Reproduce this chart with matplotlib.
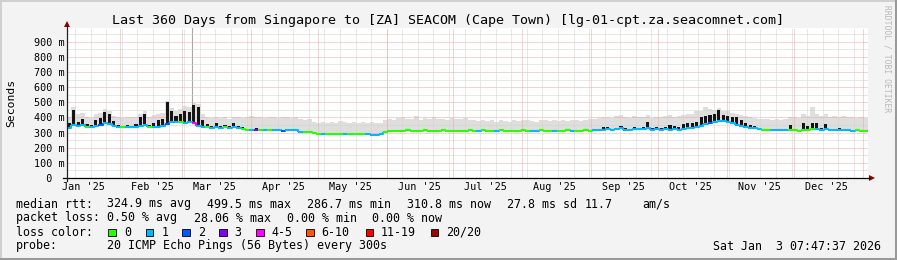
import numpy as np
import matplotlib
matplotlib.use("Agg")
import matplotlib.pyplot as plt
import matplotlib.dates as mdates
import matplotlib.transforms as mtransforms
from matplotlib.collections import LineCollection
from matplotlib.patches import Rectangle, Polygon
from matplotlib.lines import Line2D
from datetime import datetime, timedelta

W, H = 897, 260
MONO = "DejaVu Sans Mono"

# time range of the graph (Last 360 Days, ending at the timestamp in the footer)
start = datetime(2025, 1, 8, 7, 47, 37)
end = datetime(2026, 1, 3, 7, 47, 37)
step_days = 2

# median rtt per 2-day step (ms)
median_ms = [
    330, 350, 342, 350, 338, 336, 345, 350, 362, 355, 345, 338, 334, 338, 335, 336, 345, 350, 337, 340,
    340, 345, 358, 370, 372, 368, 365, 370, 360, 345, 340, 335, 332, 336, 332, 334, 331, 335, 330, 326,
    320, 316, 318, 315, 317, 318, 318, 320, 310, 318, 318, 316, 306, 303, 303, 294, 293, 292, 293, 291,
    292, 293, 292, 291, 292, 293, 291, 288, 287, 286, 288, 306, 312, 313, 313, 312, 314, 313, 312, 313,
    314, 313, 312, 313, 314, 313, 312, 313, 312, 313, 314, 313, 312, 314, 313, 312, 313, 314, 312, 313,
    313, 312, 314, 313, 312, 313, 314, 313, 312, 313, 313, 312, 314, 313, 312, 313, 314, 313, 314, 316,
    320, 322, 318, 322, 328, 320, 318, 325, 322, 326, 330, 320, 322, 320, 324, 318, 322, 320, 325, 328,
    330, 335, 345, 355, 365, 372, 378, 375, 368, 360, 352, 345, 335, 330, 328, 322, 318, 316, 318, 315,
    316, 315, 318, 314, 313, 316, 320, 322, 325, 318, 322, 316, 315, 316, 314, 315, 313, 314, 313, 313,
]

# top of the dark (black) part around the median (ms)
dark_ms = [
    360, 448, 372, 392, 356, 350, 385, 398, 438, 420, 378, 352, 345, 352, 346, 355, 402, 422, 352, 362,
    382, 392, 502, 442, 412, 420, 442, 438, 480, 472, 382, 355, 345, 362, 345, 352, 342, 360, 345, 338,
    325, 320, 332, 318, 325, 322, 320, 325, 318, 322, 320, 318, 310, 306, 306, 300, 293, 292, 293, 291,
    292, 293, 292, 291, 292, 293, 291, 288, 287, 286, 288, 306, 312, 313, 313, 312, 314, 313, 312, 313,
    314, 313, 312, 313, 314, 313, 312, 313, 312, 313, 314, 313, 312, 314, 313, 312, 313, 314, 312, 313,
    313, 312, 314, 313, 312, 313, 314, 313, 312, 313, 313, 312, 314, 313, 312, 313, 314, 313, 316, 322,
    335, 338, 325, 330, 345, 328, 325, 335, 330, 340, 373, 330, 335, 330, 338, 350, 345, 340, 355, 362,
    360, 370, 400, 410, 415, 420, 452, 418, 410, 400, 405, 380, 360, 350, 345, 330, 322, 320, 325, 318,
    320, 318, 350, 318, 316, 362, 345, 366, 360, 330, 358, 325, 322, 330, 318, 325, 316, 318, 316, 315,
]

# top of the smoke (spread of the pings, ms)
smoke_ms = [
    400, 470, 420, 430, 405, 395, 425, 430, 455, 445, 410, 400, 395, 405, 400, 400, 425, 440, 405, 415,
    420, 430, 510, 460, 440, 455, 475, 470, 495, 490, 425, 405, 395, 400, 395, 405, 390, 405, 400, 395,
    405, 408, 400, 405, 395, 400, 405, 395, 400, 405, 395, 400, 392, 385, 390, 372, 365, 370, 360, 372,
    365, 375, 368, 362, 370, 365, 372, 362, 368, 360, 365, 380, 390, 385, 395, 400, 388, 392, 410, 385,
    395, 390, 405, 388, 392, 385, 395, 390, 388, 398, 385, 380, 378, 385, 375, 380, 372, 385, 378, 370,
    382, 375, 380, 385, 378, 372, 380, 385, 375, 382, 378, 385, 375, 380, 385, 378, 382, 388, 392, 395,
    400, 405, 395, 410, 415, 400, 395, 410, 405, 400, 415, 395, 405, 400, 410, 415, 405, 410, 415, 420,
    425, 440, 445, 470, 455, 450, 465, 445, 440, 430, 425, 415, 410, 400, 395, 392, 388, 390, 385, 390,
    385, 392, 400, 405, 395, 420, 410, 470, 425, 410, 420, 405, 410, 400, 408, 400, 405, 398, 402, 395,
]

# loss color index per step (0 = no loss ... 7 = 20/20)
loss_code = (
    "1111011211" "1101111101" "1121101141" "1011101110" "0130101121"
    "1110000100" "0010000111" "1000000000" "0000000000" "0010001000"
    "0000110001" "0001000011" "1111111111" "1111111111" "1111211111"
    "1111110011" "1100000011" "1111111000"
)

# isolated thin smoke spike
spike_time = [datetime(2025, 3, 5, 14, 0)]
spike_lo_ms = [430]
spike_hi_ms = [995]

loss_colors = ["#26ff00", "#00b8ff", "#0059ff", "#7e00ff", "#ff00ff", "#ff5500", "#ff0000", "#a10000"]
loss_labels = ["0", "1", "2", "3", "4-5", "6-10", "11-19", "20/20"]

month_labels = ["Jan '25", "Feb '25", "Mar '25", "Apr '25", "May '25", "Jun '25",
                "Jul '25", "Aug '25", "Sep '25", "Oct '25", "Nov '25", "Dec '25"]
y_ticks_ms = [0, 100, 200, 300, 400, 500, 600, 700, 800, 900]

title = "Last 360 Days from Singapore to [ZA] SEACOM (Cape Town) [lg-01-cpt.za.seacomnet.com]"
rtt_items = ["324.9 ms avg", "499.5 ms max", "286.7 ms min", "310.8 ms now", "27.8 ms sd", "11.7", "am/s"]
loss_items = ["0.50 % avg", "28.06 % max", "0.00 % min", "0.00 % now"]
probe_text = "20 ICMP Echo Pings (56 Bytes) every 300s"
stamp_text = "Sat Jan  3 07:47:37 2026"


def fx(px):
    return px / W


def fy(py):
    return 1 - py / H


fig = plt.figure(figsize=(W / 100, H / 100), dpi=100, facecolor="#f3f3f3")
ax = fig.add_axes([fx(67), fy(178), 801 / W, 150 / H])
ax.set_facecolor("white")
for s in ax.spines.values():
    s.set_visible(False)
ax.set_xticks([])
ax.set_yticks([])

t0 = mdates.date2num(start)
t1 = mdates.date2num(end)
ax.set_xlim(t0, t1)
ax.set_ylim(0, 0.9906)

n = len(median_ms)
edges = mdates.date2num([start + timedelta(days=step_days * i) for i in range(n + 1)])
centers = (edges[:-1] + edges[1:]) / 2
med = np.array(median_ms) / 1000.0
dark = np.array(dark_ms) / 1000.0
smoke = np.array(smoke_ms) / 1000.0

# smoke
ax.fill_between(edges, np.r_[med, med[-1]], np.r_[smoke, smoke[-1]], step="post",
                color="#dedede", lw=0, zorder=1)
ax.vlines(mdates.date2num(spike_time), np.array(spike_lo_ms) / 1000, np.array(spike_hi_ms) / 1000,
          color="#a8a8a8", lw=0.8, zorder=1)

# grid (dotted, minor gray / major red)
px_lw = 0.72
minor_c, major_c = "#d2d2d2", "#f2a4a4"
grid_kw = dict(lw=px_lw, ls=(0, (1, 1)), zorder=2)
for v in np.arange(0.05, 0.99, 0.1):
    ax.axhline(v, color=minor_c, **grid_kw)
for v in y_ticks_ms[1:]:
    ax.axhline(v / 1000, color=major_c, **grid_kw)
d = datetime(2025, 1, 12)
while d < end:
    ax.axvline(mdates.date2num(d), color=minor_c, **grid_kw)
    d += timedelta(days=7)
for k in range(12):
    m = datetime(2025 + (1 + k) // 12, (1 + k) % 12 + 1, 1)
    ax.axvline(mdates.date2num(m), color=major_c, **grid_kw)

# dark part of the median
mask = dark > med + 0.002
ax.bar(centers[mask], dark[mask] - med[mask], bottom=med[mask], width=1.4,
       color="#141414", lw=0, zorder=3)

# median line colored by loss
segs, cols = [], []
for i in range(n):
    pts = [(edges[i], med[i]), (edges[i + 1], med[i])]
    if i + 1 < n:
        pts.append((edges[i + 1], med[i + 1]))
    segs.append(pts)
    cols.append(loss_colors[int(loss_code[i])])
ax.add_collection(LineCollection(segs, colors=cols, linewidths=1.5, zorder=4, capstyle="butt"))

# y tick labels
for v in y_ticks_ms:
    lab = f"{v:3d} m" if v else "  0  "
    ax.text(fx(30) - fx(67), v / 1000, lab, transform=ax.get_yaxis_transform(),
            ha="left", va="center_baseline", family=MONO, fontsize=7.3)
# x tick labels at mid month
xtrans = mtransforms.blended_transform_factory(ax.transData, fig.transFigure)
for k, lab in enumerate(month_labels):
    xm = mdates.date2num(datetime(2025, k + 1, 15, 12))
    ax.text(xm, fy(190), lab, transform=xtrans, ha="center", va="baseline",
            family=MONO, fontsize=7.3)

# axes lines and arrows
fig.add_artist(Line2D([fx(63), fx(870)], [fy(178), fy(178)], color="black", lw=0.9))
fig.add_artist(Line2D([fx(67), fx(67)], [fy(181), fy(27)], color="#222222", lw=0.9))
fig.add_artist(Polygon([(fx(869), fy(175)), (fx(869), fy(181)), (fx(875), fy(178))],
                       closed=True, color="#8b0000", lw=0))
fig.add_artist(Polygon([(fx(64), fy(27)), (fx(70), fy(27)), (fx(67), fy(21))],
                       closed=True, color="#8b0000", lw=0))

# texts
fig.text(fx(447.5), fy(24), title, ha="center", va="baseline", family=MONO, fontsize=9.6)
fig.text(fx(11), fy(103), "Seconds", rotation=90, ha="center", va="center", family=MONO, fontsize=8.2)
fig.text(fx(887), fy(5), "RRDTOOL / TOBI OETIKER", rotation=270, ha="center", va="top",
         family=MONO, fontsize=5.8, color="#b8b8b8")

fs = 8.4
row_y = [207.5, 221.5, 235.5, 249.5]
fig.text(fx(16), fy(row_y[0]), "median rtt:", family=MONO, fontsize=fs, va="baseline")
for x, s in zip([107.3, 206.7, 307.3, 406.7, 507.3, 585, 642.3], rtt_items):
    fig.text(fx(x), fy(row_y[0]), s, family=MONO, fontsize=fs, va="baseline")
fig.text(fx(16), fy(row_y[1]), "packet loss:", family=MONO, fontsize=fs, va="baseline")
for x, s in zip([107.3, 193.5, 286.7, 372.3], loss_items):
    fig.text(fx(x), fy(row_y[1]), s, family=MONO, fontsize=fs, va="baseline")
fig.text(fx(16), fy(row_y[2]), "loss color:", family=MONO, fontsize=fs, va="baseline")
for x, c, s in zip([108.3, 145.7, 182.3, 219, 256, 306, 365.5, 430.5], loss_colors, loss_labels):
    fig.add_artist(Rectangle((fx(x), fy(236)), 7.5 / W, 7.5 / H, facecolor=c,
                             edgecolor="black", lw=0.6))
    fig.text(fx(x + 15.6), fy(row_y[2]), s, family=MONO, fontsize=fs, va="baseline")
fig.text(fx(16), fy(row_y[3]), "probe:", family=MONO, fontsize=fs, va="baseline")
fig.text(fx(107.3), fy(row_y[3]), probe_text, family=MONO, fontsize=fs, va="baseline")
fig.text(fx(881), fy(row_y[3]), stamp_text, family=MONO, fontsize=fs, va="baseline", ha="right")

# image border
fig.add_artist(Line2D([0, 1], [fy(0.5), fy(0.5)], color="#d0d0d0", lw=1.4))
fig.add_artist(Line2D([fx(0.5), fx(0.5)], [0, 1], color="#d0d0d0", lw=1.4))
fig.add_artist(Line2D([0, 1], [fy(258.5), fy(258.5)], color="#9a9a9a", lw=2.2))
fig.add_artist(Line2D([fx(895.5), fx(895.5)], [0, 1], color="#9a9a9a", lw=2.2))

fig.savefig("out.png", dpi=100, facecolor=fig.get_facecolor())
